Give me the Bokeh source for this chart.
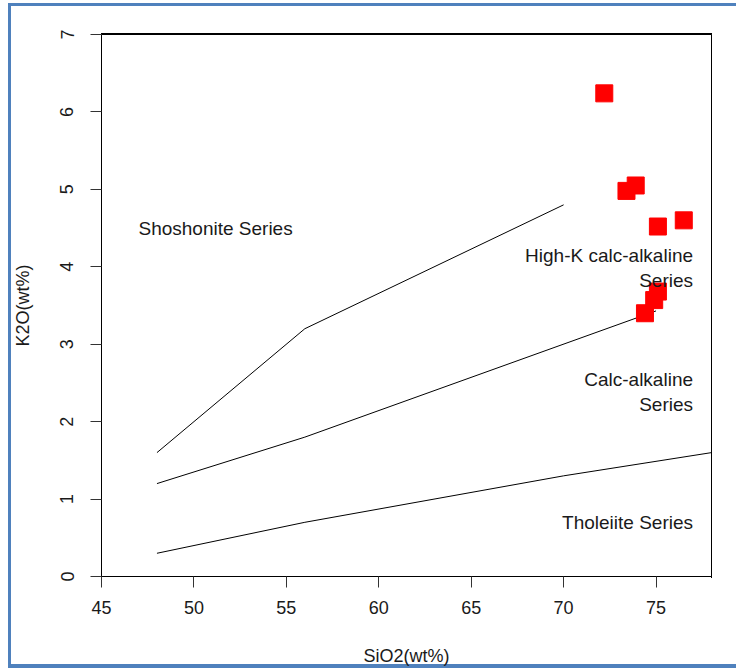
from bokeh.plotting import figure
from bokeh.models import Range1d, FixedTicker, ColumnDataSource
from bokeh.core.properties import value
from bokeh.embed import file_html
from bokeh.resources import INLINE

# --- data -------------------------------------------------------------
sio2 = [72.2, 73.4, 73.9, 75.1, 76.5, 75.1, 74.9, 74.4]
k2o = [6.24, 4.98, 5.05, 4.52, 4.60, 3.68, 3.57, 3.40]

thol_x = [48, 56, 70, 78]
thol_y = [0.3, 0.7, 1.3, 1.6]
calc_x = [48, 56, 75]
calc_y = [1.2, 1.8, 3.43]
hk_x = [48, 56, 70]
hk_y = [1.6, 3.2, 4.8]

label_text = ["Shoshonite Series", "High-K calc-alkaline\nSeries",
              "Calc-alkaline\nSeries", "Tholeiite Series"]
label_x = [47, 77, 77, 77]
label_y = [4.49, 3.98, 2.38, 0.70]
label_align = ["left", "right", "right", "right"]

x_ticks = [45, 50, 55, 60, 65, 70, 75]
y_ticks = [0, 1, 2, 3, 4, 5, 6, 7]
x_lim = [45, 78]
y_lim = [0, 7]

FONT = "Liberation Sans"
TXT = "#1a1a1a"
BLUE = "#4f81bd"

p = figure(width=736, height=668, x_range=Range1d(*x_lim), y_range=Range1d(*y_lim),
           output_backend="svg", toolbar_location=None,
           min_border_left=101, min_border_right=25, min_border_top=34, min_border_bottom=91)
p.grid.visible = False
p.background_fill_color = "white"
p.border_fill_color = None
p.outline_line_color = "black"

# blue picture frame + top/right sides of the plot box, painted behind the
# transparent canvas border (just outside the frame area)
g = f"linear-gradient({BLUE},{BLUE})"
k = "linear-gradient(#000,#000)"
p.styles = {
    "background-color": "white",
    "background-image": f"{g}, {g}, {g}, {k}, {k}",
    "background-position": "8px 3px, 8px 3px, 8px 664px, 101px 33px, 711px 33px",
    "background-size": "3px 665px, 728px 3px, 728px 4px, 611px 1px, 1px 545px",
    "background-repeat": "no-repeat",
}

p.xaxis.ticker = FixedTicker(ticks=x_ticks)
p.yaxis.ticker = FixedTicker(ticks=y_ticks)
p.xaxis.axis_label = "SiO2(wt%)"
p.yaxis.axis_label = "K2O(wt%)"
for ax in (p.xaxis, p.yaxis):
    ax.axis_line_color = "black"
    ax.major_tick_line_color = "#333333"
    ax.major_tick_out = 11
    ax.major_tick_in = 0
    ax.minor_tick_line_color = None
    ax.major_label_text_font = FONT
    ax.major_label_text_font_size = "18px"
    ax.major_label_text_color = TXT
    ax.axis_label_text_font = FONT
    ax.axis_label_text_font_size = "18px"
    ax.axis_label_text_font_style = "normal"
    ax.axis_label_text_color = TXT
p.xaxis.major_label_standoff = 13
p.yaxis.major_label_standoff = 17
p.yaxis.major_label_orientation = "vertical"
p.yaxis.axis_label_standoff = 25
p.xaxis.axis_label_standoff = 29

p.line(thol_x, thol_y, line_color="black", line_width=1)
p.line(calc_x, calc_y, line_color="black", line_width=1)
p.line(hk_x, hk_y, line_color="black", line_width=1)

p.scatter(sio2, k2o, marker="square", size=17, fill_color="#ff0000", line_color="#ff0000")

src = ColumnDataSource(dict(x=label_x, y=label_y, t=label_text, a=label_align))
p.text(x="x", y="y", text="t", text_align="a", source=src, text_baseline="middle",
       text_font=value(FONT), text_font_size="19px", text_color=TXT, text_line_height=1.2)

open("out.html", "w").write(file_html(p, INLINE))
